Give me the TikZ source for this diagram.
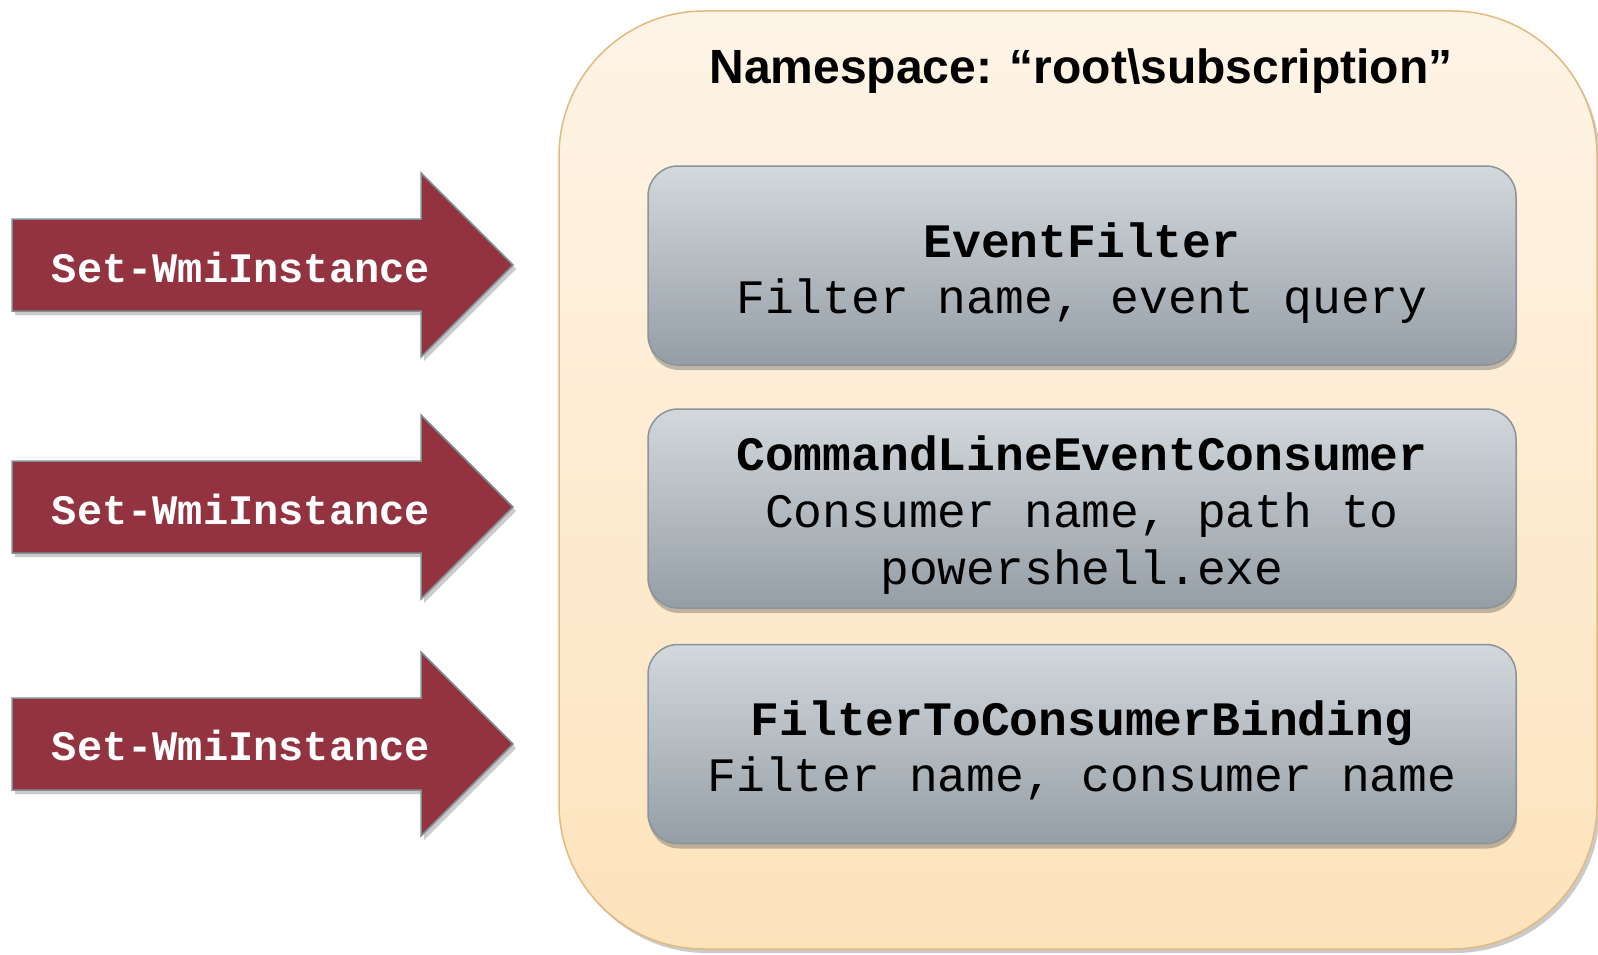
\documentclass[tikz,border=0pt]{standalone}
\usepackage{fontspec}
\setmainfont{Liberation Sans}
\setmonofont{Liberation Mono}
\usetikzlibrary{shadows}
\definecolor{arrowred}{HTML}{943340}
\definecolor{arrowedge}{HTML}{7F8F96}
\definecolor{creamtop}{HTML}{FEF4E6}
\definecolor{creambot}{HTML}{FDE3BC}
\definecolor{creamedge}{HTML}{E3B97E}
\definecolor{graytop}{HTML}{D2D9DD}
\definecolor{graybot}{HTML}{959EA5}
\definecolor{grayedge}{HTML}{8A949A}
\tikzset{
  nsbox/.style={rectangle, rounded corners=145pt, draw=creamedge, line width=1.5pt,
    top color=creamtop, bottom color=creambot, inner sep=0pt,
    minimum width=1038pt, minimum height=938pt,
    drop shadow={shadow xshift=3pt, shadow yshift=-4pt, opacity=0.35, fill=black!60}},
  classbox/.style={rectangle, rounded corners=30pt, draw=grayedge, line width=1.5pt,
    top color=graytop, bottom color=graybot, inner sep=0pt,
    minimum width=868pt, minimum height=199pt,
    drop shadow={shadow xshift=1pt, shadow yshift=-5pt, opacity=0.35, fill=black!70}},
  bigarrow/.style={fill=arrowred, draw=arrowedge, line width=1.5pt, line join=miter,
    drop shadow={shadow xshift=3pt, shadow yshift=-4pt, opacity=0.35, fill=black!60}},
  arrowtext/.style={anchor=base, inner sep=0pt, text=white,
    font=\ttfamily\bfseries\fontsize{42}{50}\selectfont},
  headtext/.style={anchor=base, inner sep=0pt,
    font=\ttfamily\bfseries\fontsize{48}{56}\selectfont},
  bodytext/.style={anchor=base, inner sep=0pt,
    font=\ttfamily\fontsize{48}{56}\selectfont},
  titletext/.style={anchor=base, inner sep=0pt,
    font=\bfseries\fontsize{48}{56}\selectfont},
}
\begin{document}
\begin{tikzpicture}[x=1pt, y=-1pt]
\useasboundingbox (0,0) rectangle (1598,955);
% namespace container
\node[nsbox] (ns) at (1078,480) {};
\node[titletext] (title) at (1081,84) {Namespace: “root\textbackslash subscription”};
% class boxes
\node[classbox] (f1) at (1082,265.5) {};
\node[classbox] (f2) at (1082,508.5) {};
\node[classbox] (f3) at (1082,744) {};
\node[headtext] (f1a) at (1082,257) {EventFilter};
\node[bodytext] (f1b) at (1082,313) {Filter name, event query};
\node[headtext] (f2a) at (1082,470) {CommandLineEventConsumer};
\node[bodytext] (f2b) at (1082,527) {Consumer name, path to};
\node[bodytext] (f2c) at (1082,584) {powershell.exe};
\node[headtext] (f3a) at (1082,735) {FilterToConsumerBinding};
\node[bodytext] (f3b) at (1082,791) {Filter name, consumer name};
% arrows
\path[bigarrow] (12,219) -- (421,219) -- (421,173) -- (513,265) -- (421,357) -- (421,311) -- (12,311) -- cycle;
\path[bigarrow] (12,461) -- (421,461) -- (421,415) -- (513,507) -- (421,599) -- (421,553) -- (12,553) -- cycle;
\path[bigarrow] (12,698) -- (421,698) -- (421,652) -- (513,744) -- (421,836) -- (421,790) -- (12,790) -- cycle;
\node[arrowtext] (a1) at (241,282) {Set-WmiInstance};
\node[arrowtext] (a2) at (241,524) {Set-WmiInstance};
\node[arrowtext] (a3) at (241,760) {Set-WmiInstance};
\end{tikzpicture}
\end{document}
